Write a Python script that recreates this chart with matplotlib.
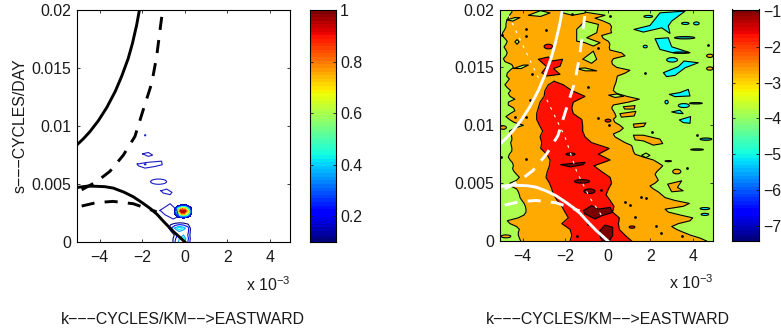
#!/usr/bin/python3
import numpy as np
import matplotlib
matplotlib.use('Agg')
import matplotlib.pyplot as plt
from matplotlib.patches import Ellipse

plt.rcParams['font.family'] = ['Liberation Sans', 'DejaVu Sans']
plt.rcParams['mathtext.default'] = 'regular'

W, H = 781, 332
K_TICKS = [-4, -2, 0, 2, 4]
K_LABELS = ['\u22124', '\u22122', '0', '2', '4']
# the zero tick sits slightly left of the middle of the frame in the original
K_TICK_SHIFT = 0.065
S_TICKS = [0, 0.005, 0.01, 0.015, 0.02]
S_LABELS = ['0', '0.005', '0.01', '0.015', '0.02']
CB1_TICKS = [0.2, 0.4, 0.6, 0.8, 1]
CB1_LABELS = ['0.2', '0.4', '0.6', '0.8', '1']
CB2_TICKS = [-7, -6, -5, -4, -3, -2, -1]
CB2_LABELS = ['\u22127', '\u22126', '\u22125', '\u22124', '\u22123', '\u22122', '\u22121']

# dispersion curves, k in 1e-3 cycles/km, s in cycles/day
SOLID_UP_K = [-5, -4.7, -4.4, -4.0, -3.6, -3.2, -2.9, -2.6, -2.4, -2.2, -2.07]
SOLID_UP_S = [.00838, .0089, .0095, .01045, .0116, .0130, .0143, .0158, .0171, .0187, .02]
DASH_UP_K = [-4.78, -4.08, -3.45, -2.82, -2.28, -1.89, -1.49, -1.26, -1.1, -.98]
DASH_UP_S = [.0045, .0052, .0061, .0075, .0091, .0114, .0137, .016, .0183, .02]
SOLID_LOW_K = [-5, -4.5, -4.08, -3.7, -3.3, -2.8, -2.36, -1.95, -1.57, -1.25, -.95, -.48, -.2, .065]
SOLID_LOW_S = [.0047, .00482, .0048, .00477, .00465, .0043, .0039, .0034, .0029, .0024, .0018, .0009, .00045, 0]
DASH_LOW_K = [-4.78, -4.08, -3.3, -2.36, -1.57, -1.26]
DASH_LOW_S = [.0031, .0034, .0035, .0033, .0028, .0026]

# left panel: coherence patches
PEAK_K = [-.45, -.3, -.15, -.05, .05, .2, .4]
PEAK_S = [.0020, .0022, .0024, .00265, .0029, .0031, .0033]
PEAK_V = [[0, 0, 0, 0, 0, 0, 0],
          [0, .12, .25, .3, .3, .2, 0],
          [.02, .3, .6, .75, .7, .5, .05],
          [.05, .45, .9, 1, 1, .7, .08],
          [.02, .3, .6, .75, .7, .45, .05],
          [0, .1, .2, .28, .26, .15, 0],
          [0, 0, 0, 0, 0, 0, 0]]
BASE_K = [-.8, -.6, -.4, -.2, 0, .2, .4]
BASE_S = [0, .0003, .0006, .0009, .0012, .0015, .0018]
BASE_V = [[0, 0, .2, .32, .34, .2, 0],
          [0, 0, .18, .3, .38, .24, 0],
          [0, 0, .12, .25, .3, .2, 0],
          [0, .08, .22, .3, .26, .24, 0],
          [0, .18, .32, .4, .34, .25, 0],
          [0, .1, .16, .2, .18, .12, 0],
          [0, 0, 0, 0, 0, 0, 0]]
RING_K = [[-1.92, -1.65, -1.45, -1.65, -1.92],
          [-2.17, -1.73, -1.03, -1.0, -1.34, -1.81, -2.12, -2.17],
          [-1.06, -.79, -.54, -.63, -.95, -1.06],
          [-1.1, -.63, -.32, -.24, -.48, -.87, -1.1]]
RING_S = [[.0076, .00772, .00749, .00738, .0076],
          [.00672, .00686, .00697, .00666, .00651, .00637, .00657, .00672],
          [.00442, .00456, .00428, .00408, .00422, .00442],
          [.00273, .0033, .00278, .00221, .00198, .00235, .00273]]
OVAL_K = [-1.17, -1.8, -1.8]
OVAL_S = [.0052, .0092, .0067]
OVAL_DK = [.75, .05, .08]
OVAL_DS = [.00045, .0001, .0001]

# right panel: band edges per row of s
ROW_S = [i * .00025 for i in range(81)]
EDGE_A = [-4.03, -4.09, -4.14, -4.14, -4.09, -4.22, -4.53, -4.66, -4.14, -3.87, -3.78, -3.78, -3.81,
          -3.87, -3.97, -4.06, -4.09, -4.14, -4.22, -4.5, -4.53, -4.22, -4.09, -4.22, -4.34, -4.41,
          -4.37, -4.41, -4.53, -4.61, -4.56, -4.45, -4.44, -4.47, -4.5, -4.44, -4.45, -4.5, -4.56,
          -4.3, -3.9, -4.34, -4.56, -4.72, -4.53, -4.3, -4.37, -4.61, -4.61, -4.3, -4.53, -4.61,
          -4.5, -4.66, -4.77, -4.66, -4.56, -4.69, -4.66, -4.53, -4.37, -4.45, -4.77, -4.84, -4.72,
          -4.66, -4.72, -4.81, -4.72, -4.66, -4.77, -4.91, -4.87, -4.78, -4.72, -4.72, -4.69, -4.62,
          -4.56, -4.45, -4.41]
EDGE_D = [4.7, 4.39, 3.95, 3.61, 3.29, 3.06, 3.37, 3.92, 4.05, 3.45, 2.9, 2.75, 3.61, 3.89, 3.22, 2.75,
          2.59, 2.43, 2.2, 2.04, 2.28, 2.43, 2.36, 2.28, 2.36, 2.51, 2.64, 2.43, 2.2, 1.73, 1.34, 1.26,
          1.23, 1.18, .87, .63, .4, .32, .63, .79, .63, .4, .32, .45, .4, .32, .24, .32, 1.03, 1.54,
          .95, .48, .32, .35, .4, .45, .48, .51, .87, 1.1, .48, .29, .24, .32, .87, .71, .16, .13, .16,
          .09, -.15, -.23, .24, .2, .24, .16, -.15, -.54, -.07, -.93, -1.4]
RED_S = [i * .0005 for i in range(28)] + [.0138]
EDGE_B = [-1.71, -1.63, -1.71, -2.1, -1.79, -1.95, -2.1, -2.31, -2.49, -2.57, -2.68, -2.84, -2.78,
          -2.68, -2.65, -2.81, -3.09, -3.04, -3.12, -3.0, -3.15, -3.28, -3.28, -3.2, -3.12, -2.93,
          -2.89, -2.73, -2.46]
EDGE_C = [1.18, .87, .6, .56, .6, .28, .35, .17, -.02, .09, .24, .17, -.23, -.59, .17, -.38, .13, -.7,
          -1.01, -1.12, -1.12, -1.16, -1.56, -1.63, -1.56, -1.01, -1.63, -2.03, -2.46]

GREEN_K = [[-2.03, -1.6, -1.0, -1.0, -2.18], [-3.67, -3.1, -2.65, -3.1, -3.67],
           [-4.69, -4.3, -4.06, -4.4, -4.69], [-1.4, -1.4, -1.01, -.38, -.46, -.93, -.3, -.62, -1.01, -1.4],
           [-1.12, -.62, -.46, -.7, -1.01, -1.12], [-1.4, -1.0, -.46, -1.0, -1.4],
           [-4.37, -3.9, -3.67, -4.0, -4.37], [-4.3, -4.2, -4.1, -4.2, -4.3],
           [.1, .5, .8, .4, .1], [1.65, 1.85, 2.04, 1.85, 1.65]]
GREEN_S = [[.0197, .0195, .0197, .0202, .0202], [.0195, .0194, .0197, .0199, .0195],
           [.0191, .0193, .0193, .0190, .0191],
           [.01727, .01828, .019, .01871, .01799, .01756, .01713, .01684, .01713, .01727],
           [.0157, .0164, .0157, .01535, .01563, .0157], [.0149, .0147, .0147, .01495, .0149],
           [.0149, .0152, .0152, .0149, .0149], [.0172, .0174, .0172, .0170, .0172],
           [.0126, .0127, .0125, .0124, .0126], [.0074, .0076, .0074, .0072, .0074]]
ORANGE_K = [[.79, 1.34, 1.3, .85, .79], [.63, 1.38, 1.3, .7, .63], [1.26, 1.85, 1.75, 1.3, 1.26],
            [1.26, 1.73, 2.51, 2.64, 2.2, 1.73, 1.34, 1.26], [2.87, 3.53, 3.33, 3.6, 3.06, 2.87]]
ORANGE_S = [[.0116, .0117, .0114, .0114, .0116], [.0110, .0112, .0108, .0107, .0110],
            [.0101, .0102, .0099, .0098, .0101],
            [.00914, .00914, .0088, .00842, .00828, .00865, .00874, .00914],
            [.00491, .0052, .00463, .00434, .00425, .00491]]
CYAN_K = [[1.29, 2.04, 2.51, 3.69, 3.06, 2.9, 2.98, 2.59, 1.73, 1.29],
          [2.28, 2.9, 3.06, 3.92, 3.1, 2.51, 2.28],
          [2.67, 3.37, 3.64, 4.31, 3.69, 3.22, 2.82, 2.67],
          [2.95, 3.45, 3.84, 3.92, 3.22, 2.95],
          [3.42, 3.95, 3.92, 3.6, 3.42], [3.06, 3.45, 3.6, 3.3, 3.06]]
CYAN_S = [[.01828, .01862, .01971, .01986, .019, .01857, .01793, .01842, .01805, .01828],
          [.01747, .01756, .01678, .01627, .01627, .01655, .01747],
          [.01454, .01506, .01555, .0154, .01497, .01431, .0142, .01454],
          [.01267, .01282, .0131, .01253, .01247, .01267],
          [.01046, .01075, .01017, .01023, .01046], [.01115, .0113, .0110, .01105, .01115]]
RED_ISL_K = [[-3.2, -2.73, -2.57, -2.06, -2.18, -2.49, -2.18, -2.81, -3.04, -2.81, -3.2]]
RED_ISL_S = [[.0157, .0159, .01555, .0157, .0151, .0149, .0144, .01425, .01454, .01506, .0157]]
DARK_K = [[-.38, -.07, .29, .29, .13, -.2, -.38],
          [-1.09, -.7, -.38, .17, .29, -.23, -.54, -1.01, -1.09],
          [-2.15, -1.6, -1.0, -1.1, -1.7, -2.15]]
DARK_S = [[.00075, .00138, .00118, .00046, 0, 0, .00075],
          [.00262, .00305, .00276, .0029, .00247, .00218, .0019, .00233, .00262],
          [.0066, .0067, .0068, .0066, .0064, .0066]]
# small closed contours: centre and extent
DARK_OVAL_K = [-.8, -1.15, -1.69]
DARK_OVAL_S = [.0043, .00515, .0075]
DARK_OVAL_DK = [.52, .71, .42]
DARK_OVAL_DS = [.0004, .0003, .0002]
ORANGE_OVAL_K = [3.3, 2.9, 4.85, 4.85, -4.85, -4.72]
ORANGE_OVAL_S = [.0060, .0069, .0160, .0149, .0098, .0004]
ORANGE_OVAL_DK = [.38, .3, .3, .3, .3, .45]
ORANGE_OVAL_DS = [.0004, .0001, .00028, .00028, .0003, .00025]
RED_OVAL_K = [-2.73, .07, 1.2]
RED_OVAL_S = [.0168, .0104, .0012]
RED_OVAL_DK = [.4, .27, .27]
RED_OVAL_DS = [.0004, .00025, .0002]
CYAN_OVAL_K = [3.08, 3.63, 2.82, 1.82, 4.62, 4.62, 1.96, 3.7, 4.22]
CYAN_OVAL_S = [.01565, .0117, .012, .0168, .0028, .0023, .0194, .0188, .0188]
CYAN_OVAL_DK = [.51, .52, .15, .19, .45, .36, .41, .35, .26]
CYAN_OVAL_DS = [.00038, .00034, .0003, .00022, .00018, .00018, .00018, .00018, .00025]
TEAL_OVAL_K = [3.67, 4.2, 3.5, 4.67, 4.25]
TEAL_OVAL_S = [.01756, .0119, .01627, .0088, .0079]
TEAL_OVAL_DK = [.95, .6, .75, .55, .6]
TEAL_OVAL_DS = [.0002, .00012, .00012, .0002, .00012]
DOT_K = [-1.6, .16, -3.78, -3.8, -2.86, -4.92, -.38, 1.81, 4.78, -3.51, -.85, -3.59, -4.3, -3.78, -.38,
         .12, -4.95, -3.8, 2.12, 4.23, .87, 1.6, 1.84, 1.1, 1.34, 2.31, 2.54, 3.53, -1.4, -.85, -.26, 3.76]
DOT_S = [.0196, .0194, .0183, .0177, .0182, .0178, .0167, .0145, .0169, .0144, .0133, .0122, .0107, .0107,
         .0106, .0100, .0073, .0071, .0094, .0092, .0034, .0038, .0037, .0031, .0021, .0013, .0007, .0004,
         .0004, .0015, .0044, .0063]
STREAK1_K = [-4.6, -3.9, -3.2]
STREAK1_S = [.0195, .0168, .0141]
STREAK2_K = [-2.8, -1.95, -1.4, -.77, -.23]
STREAK2_S = [.0122, .0090, .0060, .0037, .0022]

C_GREEN = '#adff4f'
C_ORANGE = '#ffaa00'
C_RED = '#ff1000'
C_DARK = '#7a0000'
C_CYAN = '#00ffff'
C_TEAL = '#00a8a0'
C_BLUE = '#1c1cc4'
C_TEXT = '#1a1a1a'
FONT = 11.4


def box(fig, x0, y0, x1, y1):
    return fig.add_axes([x0 / W, 1 - y1 / H, (x1 - x0) / W, (y1 - y0) / H])


def frame(ax):
    ax.set_xlim(-5, 5)
    ax.set_ylim(0, .02)
    ax.set_xticks(np.array(K_TICKS) + K_TICK_SHIFT)
    ax.set_xticklabels(K_LABELS)
    ax.set_yticks(S_TICKS)
    ax.set_yticklabels(S_LABELS)
    ax.tick_params(direction='in', top=True, right=True, length=2.2, width=.6,
                   labelsize=FONT, colors=C_TEXT)
    ax.tick_params(axis='x', pad=6)
    ax.tick_params(axis='y', pad=4)
    for sp in ax.spines.values():
        sp.set_linewidth(.8)
        sp.set_zorder(20)


def curves(ax, col):
    kw = {'color': col, 'lw': 2.1, 'zorder': 10}
    ax.plot(SOLID_UP_K, SOLID_UP_S, **kw)
    ax.plot(SOLID_LOW_K, SOLID_LOW_S, **kw)
    ax.plot(DASH_UP_K, DASH_UP_S, ls=(0, (4.5, 3.5)), **kw)
    ax.plot(DASH_LOW_K, DASH_LOW_S, ls=(0, (4.5, 3.5)), **kw)


def colorbar(fig, pos, vmin, vmax, ticks, labels):
    cax = box(fig, *pos)
    grad = np.linspace(vmax, vmin, 64).reshape(-1, 1)
    cax.imshow(grad, cmap='jet', vmin=vmin, vmax=vmax, aspect='auto',
               extent=[0, 1, vmin, vmax], interpolation='nearest')
    cax.set_xticks([])
    cax.yaxis.tick_right()
    cax.set_yticks(ticks)
    cax.set_yticklabels(labels)
    cax.tick_params(axis='y', direction='in', left=True, right=True, length=2.2, width=.6,
                    labelsize=FONT, pad=3, colors=C_TEXT)
    for sp in cax.spines.values():
        sp.set_linewidth(.8)


def islands(ax, ks, ss, col):
    for k, s in zip(ks, ss):
        ax.fill(k, s, facecolor=col, edgecolor='black', lw=.8, joinstyle='round', zorder=4)


def ovals(ax, ks, ss, dks, dss, col):
    for k, s, dk, ds in zip(ks, ss, dks, dss):
        ax.add_patch(Ellipse((k, s), dk, ds, facecolor=col, edgecolor='black', lw=.8, zorder=4))


def labels(fig, xc, y_exp, x_exp):
    fig.text(x_exp / W, 1 - y_exp / H, 'x 10$^{-3}$', ha='right', va='center',
             fontsize=FONT, color=C_TEXT)
    fig.text(xc / W, 1 - 320 / H, 'k\u2212\u2212\u2212CYCLES/KM\u2212\u2212>EASTWARD', ha='center',
             va='center', fontsize=FONT, color=C_TEXT)


def left_panel(fig):
    ax = box(fig, 77, 10, 290, 242)
    frame(ax)
    levels = [.1, .2, .3, .4, .5, .6, .7, .8, .9, 1]
    ax.contour(BASE_K, BASE_S, BASE_V, levels=[.1, .2, .3, .35], cmap='jet', vmin=.1, vmax=.8,
               linewidths=.8)
    ax.contourf(PEAK_K, PEAK_S, PEAK_V, levels=levels, cmap='jet', vmin=.1, vmax=1)
    for k, s in zip(RING_K, RING_S):
        ax.plot(k, s, color=C_BLUE, lw=.8)
    for k, s, dk, ds in zip(OVAL_K, OVAL_S, OVAL_DK, OVAL_DS):
        ax.add_patch(Ellipse((k, s), dk, ds, fill=False, edgecolor=C_BLUE, lw=.8))
    curves(ax, 'black')
    ax.set_ylabel('s\u2212\u2212\u2212CYCLES/DAY', fontsize=FONT, labelpad=3, color=C_TEXT)
    labels(fig, 182.5, 285, 290)
    colorbar(fig, (309.5, 10, 336, 242), .1, 1, CB1_TICKS, CB1_LABELS)


def right_panel(fig):
    ax = box(fig, 500, 9.5, 713, 241)
    frame(ax)
    ax.set_facecolor(C_GREEN)
    ax.fill_betweenx(ROW_S, EDGE_A, EDGE_D, color=C_ORANGE, lw=0, zorder=1)
    ax.plot(EDGE_A, ROW_S, color='black', lw=.8, zorder=2)
    ax.plot(EDGE_D, ROW_S, color='black', lw=.8, zorder=2)
    ax.fill_betweenx(RED_S, EDGE_B, EDGE_C, color=C_RED, lw=0, zorder=3)
    ax.plot(EDGE_B, RED_S, color='black', lw=.8, zorder=3)
    ax.plot(EDGE_C, RED_S, color='black', lw=.8, zorder=3)
    islands(ax, GREEN_K, GREEN_S, C_GREEN)
    islands(ax, ORANGE_K, ORANGE_S, C_ORANGE)
    islands(ax, CYAN_K, CYAN_S, C_CYAN)
    islands(ax, RED_ISL_K, RED_ISL_S, C_RED)
    islands(ax, DARK_K, DARK_S, C_DARK)
    ovals(ax, DARK_OVAL_K, DARK_OVAL_S, DARK_OVAL_DK, DARK_OVAL_DS, C_DARK)
    ovals(ax, ORANGE_OVAL_K, ORANGE_OVAL_S, ORANGE_OVAL_DK, ORANGE_OVAL_DS, C_ORANGE)
    ovals(ax, RED_OVAL_K, RED_OVAL_S, RED_OVAL_DK, RED_OVAL_DS, C_RED)
    ovals(ax, CYAN_OVAL_K, CYAN_OVAL_S, CYAN_OVAL_DK, CYAN_OVAL_DS, C_CYAN)
    ovals(ax, TEAL_OVAL_K, TEAL_OVAL_S, TEAL_OVAL_DK, TEAL_OVAL_DS, C_TEAL)
    ax.scatter(DOT_K, DOT_S, s=4, color='black', lw=0, zorder=5)
    for k, s in ((STREAK1_K, STREAK1_S), (STREAK2_K, STREAK2_S)):
        ax.plot(k, s, color='white', lw=.8, ls=(0, (2.5, 5)), zorder=6)
    curves(ax, 'white')
    labels(fig, 607.5, 283, 713)
    colorbar(fig, (732, 9.5, 759, 241), -7.42, -.96, CB2_TICKS, CB2_LABELS)


def main():
    fig = plt.figure(figsize=(W / 100, H / 100), dpi=100)
    left_panel(fig)
    right_panel(fig)
    fig.savefig('out.png', dpi=100)


if __name__ == '__main__':
    main()
